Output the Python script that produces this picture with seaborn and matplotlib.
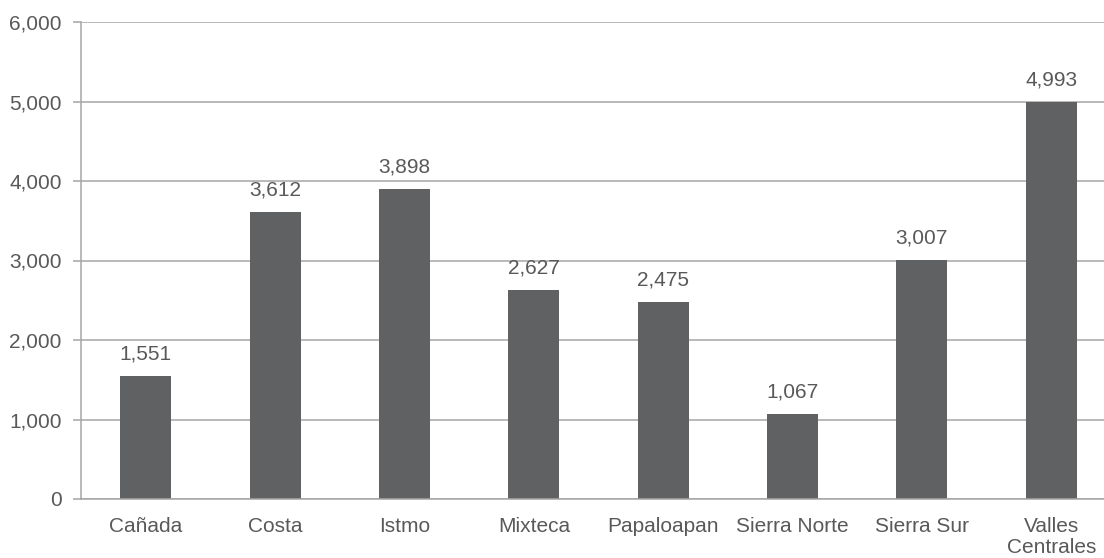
import matplotlib
matplotlib.use("Agg")
import matplotlib.pyplot as plt
import seaborn as sns
import pandas as pd
from matplotlib.ticker import FuncFormatter, FixedLocator

regions = ["Cañada", "Costa", "Istmo", "Mixteca", "Papaloapan",
           "Sierra Norte", "Sierra Sur", "Valles\nCentrales"]
values = [1551, 3612, 3898, 2627, 2475, 1067, 3007, 4993]
y_ticks = [0, 1000, 2000, 3000, 4000, 5000, 6000]

BAR_COLOR = "#606163"
GRID_COLOR = "#a6a6a6"
TEXT_COLOR = "#595959"

sns.set_style("white")
plt.rcParams["font.family"] = ["Liberation Sans", "DejaVu Sans"]

df = pd.DataFrame({"region": regions, "value": values})

fig = plt.figure(figsize=(11.04, 5.58), dpi=100)
ax = fig.add_axes([81 / 1104, 59 / 558, 1035 / 1104, 477 / 558])

sns.barplot(data=df, x="region", y="value", color=BAR_COLOR,
            saturation=1, width=0.395, linewidth=0, edgecolor="none", ax=ax)

ax.set_xlim(-0.5, len(regions) - 0.5)
ax.set_ylim(0, 6000)
ax.set_yticks(y_ticks)
ax.yaxis.set_major_formatter(FuncFormatter(lambda v, p: f"{v:,.0f}"))
ax.grid(axis="y", color=GRID_COLOR, linewidth=1.1)
ax.set_axisbelow(True)

# tick marks sit between categories, labels stay centred
ax.xaxis.set_minor_locator(FixedLocator([i - 0.5 for i in range(len(regions) + 1)]))
ax.tick_params(axis="x", which="major", length=0, pad=13,
               labelsize=15, labelcolor=TEXT_COLOR)
ax.tick_params(axis="x", which="minor", length=6, width=1.1,
               color=GRID_COLOR, direction="out")
ax.tick_params(axis="y", length=6, width=1.1, color=GRID_COLOR,
               labelsize=15, labelcolor=TEXT_COLOR, pad=8, left=True)
for lbl in ax.get_xticklabels():
    lbl.set_linespacing(1.1)

for side in ["top", "right"]:
    ax.spines[side].set_visible(False)
for side in ["left", "bottom"]:
    ax.spines[side].set_color(GRID_COLOR)
    ax.spines[side].set_linewidth(1.1)

ax.bar_label(ax.containers[0], labels=[f"{v:,}" for v in values],
             padding=9, fontsize=15, color=TEXT_COLOR)

ax.set_xlabel("")
ax.set_ylabel("")

fig.savefig("out.png", dpi=100)
plt.close(fig)
